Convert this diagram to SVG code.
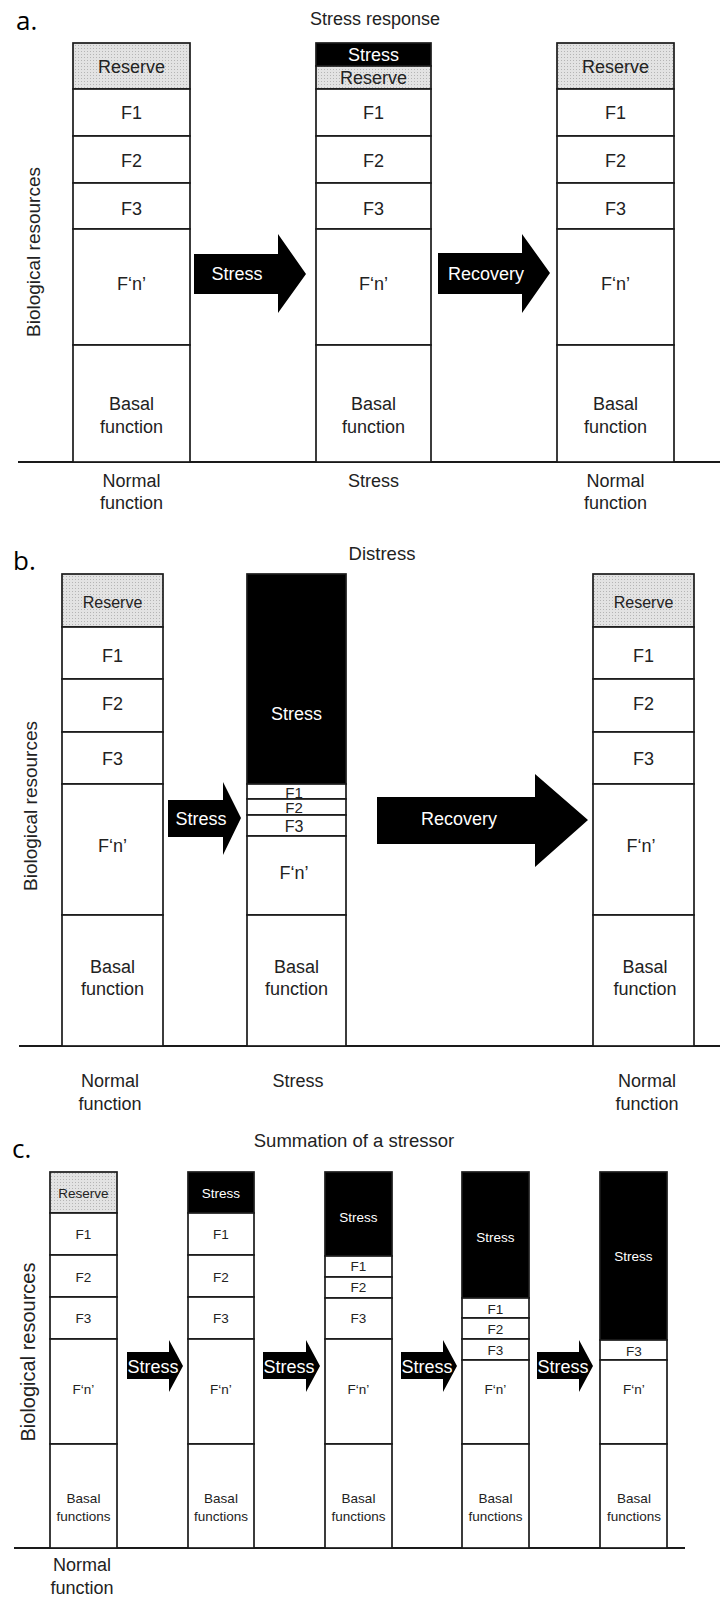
<svg xmlns="http://www.w3.org/2000/svg" width="720" height="1598" viewBox="0 0 720 1598">
<defs>
<pattern id="dots" width="3" height="3" patternUnits="userSpaceOnUse"><rect width="3" height="3" fill="#e3e3e3"/><rect width="1" height="1" fill="#b5b5b5"/></pattern>
<style>
.c{fill:#fff;stroke:#1a1a1a;stroke-width:1.7}
.r{fill:url(#dots);stroke:#1a1a1a;stroke-width:1.7}
.s{fill:#000;stroke:#1a1a1a;stroke-width:1.7}
.ax{stroke:#1a1a1a;stroke-width:1.8;fill:none}
.arr{fill:#000}
text{font-family:"Liberation Sans",Arial,sans-serif;fill:#222;text-anchor:middle}
.w{fill:#fff}
.t18{font-size:18px}
.t16{font-size:16px}
.t15{font-size:15px}
.t13{font-size:13.5px}
.lab{font-family:"Open Sans","Liberation Sans",sans-serif;font-size:26px;fill:#000;text-anchor:start}
</style>
</defs>

<!-- Panel a -->
<text class="lab" x="16" y="30">a.</text>
<text class="t18" x="375" y="25">Stress response</text>
<text class="t18" transform="translate(40,252) rotate(-90)" style="font-size:19px">Biological resources</text>
<line class="ax" x1="18" y1="462" x2="720" y2="462"/>

<g id="a1" class="t18">
<rect class="r" x="73" y="43" width="117" height="46"/>
<rect class="c" x="73" y="89" width="117" height="47"/>
<rect class="c" x="73" y="136" width="117" height="47"/>
<rect class="c" x="73" y="183" width="117" height="46"/>
<rect class="c" x="73" y="229" width="117" height="116"/>
<rect class="c" x="73" y="345" width="117" height="117"/>
<text x="131.5" y="72.5">Reserve</text>
<text x="131.5" y="119">F1</text>
<text x="131.5" y="166.5">F2</text>
<text x="131.5" y="214.5">F3</text>
<text x="131.5" y="289.5">F‘n’</text>
<text x="131.5" y="410">Basal</text>
<text x="131.5" y="433">function</text>
</g>
<g id="a2" class="t18">
<rect class="s" x="316" y="43" width="115" height="23"/>
<rect class="r" x="316" y="66" width="115" height="23"/>
<rect class="c" x="316" y="89" width="115" height="47"/>
<rect class="c" x="316" y="136" width="115" height="47"/>
<rect class="c" x="316" y="183" width="115" height="46"/>
<rect class="c" x="316" y="229" width="115" height="116"/>
<rect class="c" x="316" y="345" width="115" height="117"/>
<text class="w" x="373.5" y="61">Stress</text>
<text x="373.5" y="84">Reserve</text>
<text x="373.5" y="119">F1</text>
<text x="373.5" y="166.5">F2</text>
<text x="373.5" y="214.5">F3</text>
<text x="373.5" y="289.5">F‘n’</text>
<text x="373.5" y="410">Basal</text>
<text x="373.5" y="433">function</text>
</g>
<g id="a3" class="t18">
<rect class="r" x="557" y="43" width="117" height="46"/>
<rect class="c" x="557" y="89" width="117" height="47"/>
<rect class="c" x="557" y="136" width="117" height="47"/>
<rect class="c" x="557" y="183" width="117" height="46"/>
<rect class="c" x="557" y="229" width="117" height="116"/>
<rect class="c" x="557" y="345" width="117" height="117"/>
<text x="615.5" y="72.5">Reserve</text>
<text x="615.5" y="119">F1</text>
<text x="615.5" y="166.5">F2</text>
<text x="615.5" y="214.5">F3</text>
<text x="615.5" y="289.5">F‘n’</text>
<text x="615.5" y="410">Basal</text>
<text x="615.5" y="433">function</text>
</g>
<g class="t18">
<text x="131.5" y="487">Normal</text>
<text x="131.5" y="509">function</text>
<text x="373.5" y="487">Stress</text>
<text x="615.5" y="487">Normal</text>
<text x="615.5" y="509">function</text>
</g>

<!-- Panel b -->
<text class="lab" x="13" y="570">b.</text>
<text class="t18" x="382" y="560" style="font-size:18.5px">Distress</text>
<text class="t18" transform="translate(37,806) rotate(-90)" style="font-size:19px">Biological resources</text>
<line class="ax" x1="19" y1="1046" x2="720" y2="1046"/>

<g id="b1" class="t18">
<rect class="r" x="62" y="574" width="101" height="53"/>
<rect class="c" x="62" y="627" width="101" height="52"/>
<rect class="c" x="62" y="679" width="101" height="53"/>
<rect class="c" x="62" y="732" width="101" height="52"/>
<rect class="c" x="62" y="784" width="101" height="131"/>
<rect class="c" x="62" y="915" width="101" height="131"/>
<text class="t16" x="112.5" y="608">Reserve</text>
<text x="112.5" y="662">F1</text>
<text x="112.5" y="709.5">F2</text>
<text x="112.5" y="765">F3</text>
<text x="112.5" y="852">F‘n’</text>
<text x="112.5" y="973">Basal</text>
<text x="112.5" y="995">function</text>
</g>
<g id="b2" class="t18">
<rect class="s" x="247" y="574" width="99" height="210"/>
<rect class="c" x="247" y="784" width="99" height="15"/>
<rect class="c" x="247" y="799" width="99" height="16"/>
<rect class="c" x="247" y="815" width="99" height="21"/>
<rect class="c" x="247" y="836" width="99" height="79"/>
<rect class="c" x="247" y="915" width="99" height="131"/>
<text class="w" x="296.5" y="720">Stress</text>
<text class="t15" x="294" y="797.5">F1</text>
<text class="t15" x="294" y="813">F2</text>
<text class="t16" x="294" y="832">F3</text>
<text x="294" y="879">F‘n’</text>
<text x="296.5" y="973">Basal</text>
<text x="296.5" y="995">function</text>
</g>
<g id="b3" class="t18">
<rect class="r" x="593" y="574" width="101" height="53"/>
<rect class="c" x="593" y="627" width="101" height="52"/>
<rect class="c" x="593" y="679" width="101" height="53"/>
<rect class="c" x="593" y="732" width="101" height="52"/>
<rect class="c" x="593" y="784" width="101" height="131"/>
<rect class="c" x="593" y="915" width="101" height="131"/>
<text class="t16" x="643.5" y="608">Reserve</text>
<text x="643.5" y="662">F1</text>
<text x="643.5" y="709.5">F2</text>
<text x="643.5" y="765">F3</text>
<text x="641" y="852">F‘n’</text>
<text x="645" y="973">Basal</text>
<text x="645" y="995">function</text>
</g>
<g class="t18">
<text x="110" y="1087">Normal</text>
<text x="110" y="1110">function</text>
<text x="298" y="1087">Stress</text>
<text x="647" y="1087">Normal</text>
<text x="647" y="1110">function</text>
</g>

<!-- Panel c -->
<text class="lab" x="12" y="1158">c.</text>
<text class="t18" x="354" y="1147" style="font-size:18.5px">Summation of a stressor</text>
<text class="t18" transform="translate(35,1352) rotate(-90)" style="font-size:20px">Biological resources</text>
<line class="ax" x1="14" y1="1548" x2="685" y2="1548"/>

<g id="c1" class="t13">
<rect class="r" x="50" y="1172" width="67" height="41"/>
<rect class="c" x="50" y="1213" width="67" height="42"/>
<rect class="c" x="50" y="1255" width="67" height="42"/>
<rect class="c" x="50" y="1297" width="67" height="42"/>
<rect class="c" x="50" y="1339" width="67" height="105"/>
<rect class="c" x="50" y="1444" width="67" height="104"/>
<text x="83.5" y="1198">Reserve</text>
<text x="83.5" y="1239">F1</text>
<text x="83.5" y="1282">F2</text>
<text x="83.5" y="1323">F3</text>
<text x="83.5" y="1394">F‘n’</text>
<text x="83.5" y="1503">Basal</text>
<text x="83.5" y="1521">functions</text>
</g>
<g id="c2" class="t13">
<rect class="s" x="188" y="1172" width="66" height="41"/>
<rect class="c" x="188" y="1213" width="66" height="42"/>
<rect class="c" x="188" y="1255" width="66" height="42"/>
<rect class="c" x="188" y="1297" width="66" height="42"/>
<rect class="c" x="188" y="1339" width="66" height="105"/>
<rect class="c" x="188" y="1444" width="66" height="104"/>
<text class="w" x="221" y="1198">Stress</text>
<text x="221" y="1239">F1</text>
<text x="221" y="1282">F2</text>
<text x="221" y="1323">F3</text>
<text x="221" y="1394">F‘n’</text>
<text x="221" y="1503">Basal</text>
<text x="221" y="1521">functions</text>
</g>
<g id="c3" class="t13">
<rect class="s" x="325" y="1172" width="67" height="84"/>
<rect class="c" x="325" y="1256" width="67" height="21"/>
<rect class="c" x="325" y="1277" width="67" height="21"/>
<rect class="c" x="325" y="1298" width="67" height="41"/>
<rect class="c" x="325" y="1339" width="67" height="105"/>
<rect class="c" x="325" y="1444" width="67" height="104"/>
<text class="w" x="358.5" y="1222">Stress</text>
<text x="358.5" y="1271">F1</text>
<text x="358.5" y="1292">F2</text>
<text x="358.5" y="1323">F3</text>
<text x="358.5" y="1394">F‘n’</text>
<text x="358.5" y="1503">Basal</text>
<text x="358.5" y="1521">functions</text>
</g>
<g id="c4" class="t13">
<rect class="s" x="462" y="1172" width="67" height="126"/>
<rect class="c" x="462" y="1298" width="67" height="20"/>
<rect class="c" x="462" y="1318" width="67" height="21"/>
<rect class="c" x="462" y="1339" width="67" height="21"/>
<rect class="c" x="462" y="1360" width="67" height="84"/>
<rect class="c" x="462" y="1444" width="67" height="104"/>
<text class="w" x="495.5" y="1242">Stress</text>
<text x="495.5" y="1313.5">F1</text>
<text x="495.5" y="1334">F2</text>
<text x="495.5" y="1354.5">F3</text>
<text x="495.5" y="1394">F‘n’</text>
<text x="495.5" y="1503">Basal</text>
<text x="495.5" y="1521">functions</text>
</g>
<g id="c5" class="t13">
<rect class="s" x="600" y="1172" width="67" height="168"/>
<rect class="c" x="600" y="1340" width="67" height="20"/>
<rect class="c" x="600" y="1360" width="67" height="84"/>
<rect class="c" x="600" y="1444" width="67" height="104"/>
<text class="w" x="633.5" y="1261">Stress</text>
<text x="634" y="1355.5">F3</text>
<text x="634" y="1394">F‘n’</text>
<text x="634" y="1503">Basal</text>
<text x="634" y="1521">functions</text>
</g>
<g class="t18">
<text x="82" y="1571">Normal</text>
<text x="82" y="1594">function</text>
</g>

<!-- Connectors (block arrows) -->
<g id="connectors">
<polygon class="arr" points="194,254 278,254 278,234 306,274 278,313 278,294 194,294"/>
<polygon class="arr" points="438,253 522,253 522,234 550,273 522,313 522,294 438,294"/>
<polygon class="arr" points="168,800 223,800 223,782 241,818 223,855 223,837 168,837"/>
<polygon class="arr" points="377,797 535,797 535,774 588,820 535,867 535,844 377,844"/>
<polygon class="arr" points="127,1352 169,1352 169,1340 183,1366 169,1392 169,1379 127,1379"/>
<polygon class="arr" points="263,1352 306,1352 306,1340 320,1366 306,1392 306,1379 263,1379"/>
<polygon class="arr" points="401,1352 443,1352 443,1340 457,1366 443,1392 443,1379 401,1379"/>
<polygon class="arr" points="537,1352 579,1352 579,1340 593,1366 579,1392 579,1379 537,1379"/>
<g class="t18">
<text class="w" x="237" y="280">Stress</text>
<text class="w" x="486" y="280">Recovery</text>
<text class="w" x="201" y="825">Stress</text>
<text class="w" x="459" y="825">Recovery</text>
<text class="w" x="153" y="1373">Stress</text>
<text class="w" x="289" y="1373">Stress</text>
<text class="w" x="427" y="1373">Stress</text>
<text class="w" x="563" y="1373">Stress</text>
</g>
</g>
</svg>
